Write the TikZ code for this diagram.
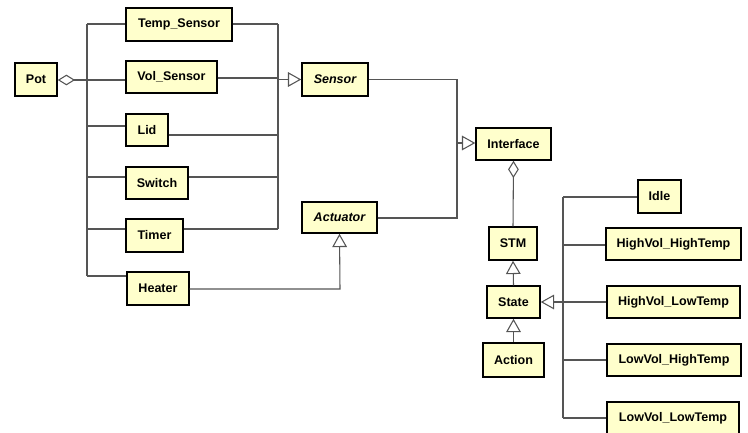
\documentclass[tikz,border=0pt]{standalone}
\usepackage{fontspec}
\setmainfont{Liberation Sans}
\usetikzlibrary{arrows.meta}
\definecolor{clsfill}{HTML}{FFFFCC}
\definecolor{lnk}{HTML}{555555}
\begin{document}
\begin{tikzpicture}[x=0.75pt,y=-0.75pt,
  cls/.style 2 args={draw=black,line width=1.1pt,fill=clsfill,inner sep=0pt,
     minimum width=#1*0.75pt,minimum height=#2*0.75pt,
     font=\fontsize{9.4}{10}\selectfont\bfseries},
  abs/.style={font=\fontsize{9.4}{10}\selectfont\bfseries\itshape},
  lk/.style={draw=lnk,line width=0.8pt},
  gen/.style={lk,-{Triangle[open,length=10pt,width=11pt,fill=white]}},
  agg/.style={lk,{Diamond[open,length=13pt,width=8pt,fill=white]}-}]
\useasboundingbox (0,0) rectangle (748,432);
% classes
\node[cls={42}{33}] (pot) at (36,79.5) {Pot};
\node[cls={106}{33}] (temp) at (179,24.5) {Temp\_Sensor};
\node[cls={91}{32}] (vol) at (171.5,77) {Vol\_Sensor};
\node[cls={42}{32}] (lid) at (147,130) {Lid};
\node[cls={62}{32}] (switch) at (157,183) {Switch};
\node[cls={57}{33}] (timer) at (154.5,235.5) {Timer};
\node[cls={62}{33}] (heater) at (158,288.5) {Heater};
\node[cls={66}{33},abs] (sensor) at (335,79.5) {Sensor};
\node[cls={75}{31},abs] (actuator) at (339.5,217.5) {Actuator};
\node[cls={75}{32}] (interface) at (513.5,144) {Interface};
\node[cls={48}{33}] (stm) at (513,243.5) {STM};
\node[cls={53}{32}] (state) at (513.5,302) {State};
\node[cls={61}{34}] (action) at (513.5,360) {Action};
\node[cls={43}{33}] (idle) at (659.5,196.5) {Idle};
\node[cls={135}{32}] (hh) at (673.5,244) {HighVol\_HighTemp};
\node[cls={133}{32}] (hl) at (673.5,302) {HighVol\_LowTemp};
\node[cls={134}{32}] (lh) at (674,360) {LowVol\_HighTemp};
\node[cls={132}{32}] (ll) at (673,418) {LowVol\_LowTemp};
% trunk coordinates
\coordinate (lt1) at (87,24);
\coordinate (lt2) at (87,80);
\coordinate (lt3) at (87,126);
\coordinate (lt4) at (87,177);
\coordinate (lt5) at (87,229);
\coordinate (lt6) at (87,276);
\coordinate (rt1) at (278,24);
\coordinate (rt2) at (278,78);
\coordinate (rt3) at (278,135);
\coordinate (rt4) at (278,177);
\coordinate (rt5) at (278,229);
\coordinate (rtg) at (278,79.5);
\coordinate (it1) at (457,79.5);
\coordinate (it2) at (457,143);
\coordinate (it3) at (457,218);
\coordinate (hb) at (340,289);
\coordinate (st1) at (563,197);
\coordinate (st2) at (563,245);
\coordinate (st3) at (563,302);
\coordinate (st4) at (563,360);
\coordinate (st5) at (563,418);
% Pot composition
\draw[agg] (pot.east |- lt2) -- (lt2);
\draw[lk] (lt1) -- (lt6);
\draw[lk] (lt1) -- (lt1 -| temp.west);
\draw[lk] (lt2) -- (lt2 -| vol.west);
\draw[lk] (lt3) -- (lt3 -| lid.west);
\draw[lk] (lt4) -- (lt4 -| switch.west);
\draw[lk] (lt5) -- (lt5 -| timer.west);
\draw[lk] (lt6) -- (lt6 -| heater.west);
% Sensor generalization
\draw[lk] (rt1) -- (rt5);
\draw[lk] (temp.east |- rt1) -- (rt1);
\draw[lk] (vol.east |- rt2) -- (rt2);
\draw[lk] (lid.east |- rt3) -- (rt3);
\draw[lk] (switch.east |- rt4) -- (rt4);
\draw[lk] (timer.east |- rt5) -- (rt5);
\draw[gen] (rtg) -- (sensor.west);
% Actuator
\draw[gen] (heater.east |- hb) -- (hb) -- (actuator.south);
% Interface
\draw[lk] (sensor.east) -- (it1) -- (it2);
\draw[lk] (actuator.east |- it3) -- (it3) -- (it2);
\draw[gen] (it2) -- (interface.west |- it2);
\draw[agg] (interface.south) -- (stm.north);
\draw[gen] (state.north) -- (stm.south);
\draw[gen] (action.north) -- (state.south);
% states
\draw[lk] (st1) -- (st5);
\draw[lk] (st1) -- (st1 -| idle.west);
\draw[lk] (st2) -- (st2 -| hh.west);
\draw[lk] (st3) -- (st3 -| hl.west);
\draw[lk] (st4) -- (st4 -| lh.west);
\draw[lk] (st5) -- (st5 -| ll.west);
\draw[gen] (st3) -- (state.east);
\end{tikzpicture}
\end{document}
